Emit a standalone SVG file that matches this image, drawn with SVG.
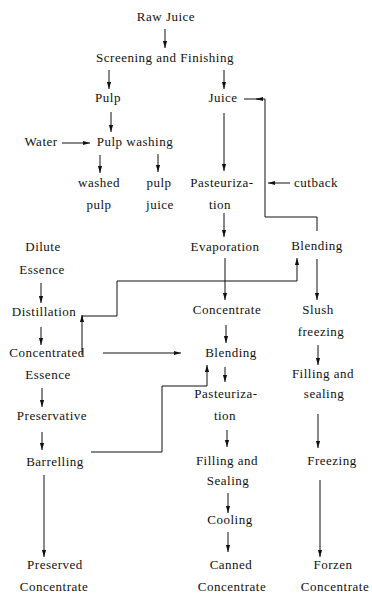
<svg xmlns="http://www.w3.org/2000/svg" width="372" height="596" viewBox="0 0 372 596">
<style>
text{font-family:"Liberation Serif","Times New Roman",serif;font-size:13px;fill:#111;text-anchor:middle;letter-spacing:0.5px}
.c path{fill:none;stroke:#111;stroke-width:1}
.a{marker-end:url(#ah)}
</style>
<defs>
<marker id="ah" markerWidth="8" markerHeight="6" refX="7" refY="3" orient="auto" markerUnits="userSpaceOnUse">
<path d="M0,0.9 L7,3 L0,5.1 Z" fill="#111"/>
</marker>
</defs>
<rect width="372" height="596" fill="#fff"/>
<g class="c" id="connectors">
<path class="a" d="M165,29 V48"/>
<path class="a" d="M109,70 V89"/>
<path class="a" d="M224,70 V89"/>
<path class="a" d="M111,112 V132"/>
<path class="a" d="M62,143 H90"/>
<path class="a" d="M100,155 V173"/>
<path class="a" d="M158,154 V172"/>
<path class="a" d="M224,113 V171"/>
<path d="M317,231 V217 H265 V99 H244"/>
<path class="a" d="M263,99 H256"/>
<path class="a" d="M290,183 H268"/>
<path class="a" d="M224,213 V237"/>
<path class="a" d="M225,258 V300"/>
<path class="a" d="M317,259 V300"/>
<path class="a" d="M82,355 V316 H117 V281 H297 V258"/>
<path class="a" d="M82,322 V315"/>
<path class="a" d="M103,353 H181"/>
<path class="a" d="M41,283 V303"/>
<path class="a" d="M41,327 V345"/>
<path class="a" d="M42,388 V407"/>
<path class="a" d="M42,432 V450"/>
<path class="a" d="M91,452 H162 V386 H207 V365"/>
<path class="a" d="M226,325 V343"/>
<path class="a" d="M225,367 V382"/>
<path class="a" d="M318,345 V365"/>
<path class="a" d="M318,414 V448"/>
<path class="a" d="M227,430 V447"/>
<path class="a" d="M228,493 V513"/>
<path class="a" d="M228,532 V552"/>
<path class="a" d="M44,475 V557"/>
<path class="a" d="M320,480 V557"/>
</g>
<g id="raw-juice"><text x="166" y="21">Raw Juice</text></g>
<g id="screening"><text x="165" y="62">Screening and Finishing</text></g>
<g id="pulp"><text x="108" y="102">Pulp</text></g>
<g id="juice"><text x="223" y="102">Juice</text></g>
<g id="water"><text x="41" y="146">Water</text></g>
<g id="pulp-washing"><text x="135" y="146">Pulp washing</text></g>
<g id="washed-pulp"><text x="99" y="187">washed</text><text x="99" y="209">pulp</text></g>
<g id="pulp-juice"><text x="159" y="187">pulp</text><text x="160" y="209">juice</text></g>
<g id="pasteurization-1"><text x="222" y="187">Pasteuriza-</text><text x="220" y="209">tion</text></g>
<g id="cutback"><text x="316" y="187">cutback</text></g>
<g id="dilute-essence"><text x="43" y="251">Dilute</text><text x="42" y="274">Essence</text></g>
<g id="evaporation"><text x="225" y="251">Evaporation</text></g>
<g id="blending-2"><text x="317" y="250">Blending</text></g>
<g id="distillation"><text x="44" y="316">Distillation</text></g>
<g id="concentrate"><text x="227" y="314">Concentrate</text></g>
<g id="slush-freezing"><text x="318" y="314">Slush</text><text x="321" y="336">freezing</text></g>
<g id="concentrated-essence"><text x="47" y="357">Concentrated</text><text x="48" y="379">Essence</text></g>
<g id="blending-1"><text x="231" y="357">Blending</text></g>
<g id="filling-sealing-2"><text x="323" y="378">Filling and</text><text x="324" y="398">sealing</text></g>
<g id="pasteurization-2"><text x="226" y="398">Pasteuriza-</text><text x="225" y="420">tion</text></g>
<g id="preservative"><text x="52" y="420">Preservative</text></g>
<g id="barrelling"><text x="55" y="466">Barrelling</text></g>
<g id="filling-sealing-1"><text x="227" y="465">Filling and</text><text x="228" y="485">Sealing</text></g>
<g id="freezing"><text x="332" y="465">Freezing</text></g>
<g id="cooling"><text x="230" y="524">Cooling</text></g>
<g id="preserved-concentrate"><text x="55" y="569">Preserved</text><text x="54" y="591">Concentrate</text></g>
<g id="canned-concentrate"><text x="231" y="569">Canned</text><text x="232" y="591">Concentrate</text></g>
<g id="frozen-concentrate"><text x="333" y="569">Forzen</text><text x="335" y="591">Concentrate</text></g>
</svg>
